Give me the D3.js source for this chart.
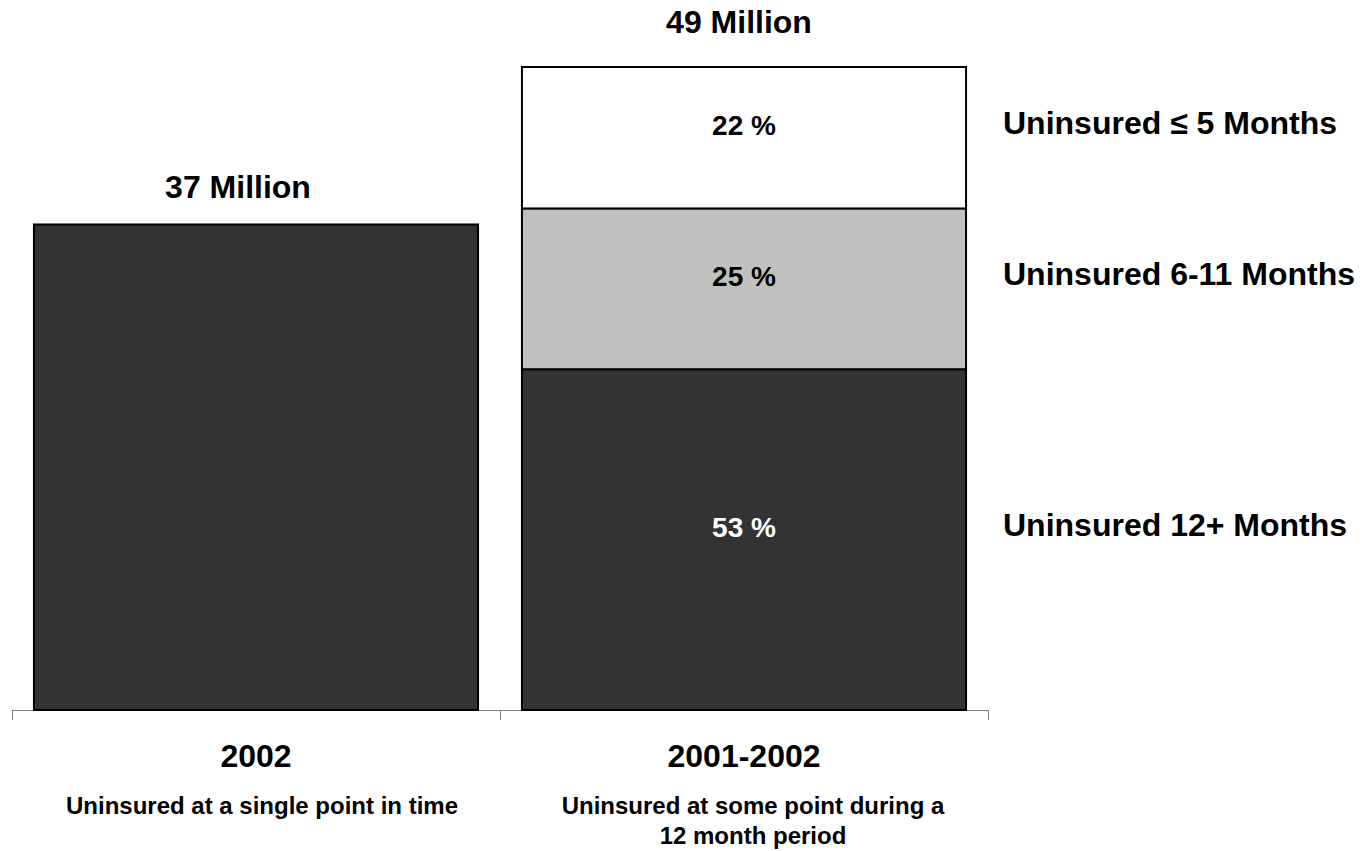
<!DOCTYPE html>
<html>
<head>
<meta charset="utf-8">
<script src="https://cdn.jsdelivr.net/npm/d3@7"></script>
<style>
  html, body { margin: 0; padding: 0; background: #fff; }
  svg { display: block; font-family: "Liberation Sans", Arial, sans-serif; font-weight: bold; }
</style>
</head>
<body>
<svg id="chart" width="1365" height="851"></svg>
<script>
// Uninsured population: point-in-time vs. over a 12 month period
const categories = ["2002", "2001-2002"];
const subtitles = [
  ["Uninsured at a single point in time"],
  ["Uninsured at some point during a", "12 month period"]
];
const totals = [37, 49];                 // millions
const totalLabels = ["37 Million", "49 Million"];
const durationGroups = ["Uninsured 12+ Months", "Uninsured 6-11 Months", "Uninsured \u2264 5 Months"];
const durationShares = [53, 25, 22];     // percent of the 2001-2002 total
const groupColors = ["#333333", "#c0c0c0", "#ffffff"];

const svg = d3.select("#chart");

const x = d3.scaleBand()
  .domain(categories)
  .range([12, 988])
  .paddingInner(0.09)
  .paddingOuter(0.045);

const y = d3.scaleLinear()
  .domain([0, 49])
  .range([710, 67]);

// Axis with ticks at the category boundaries
const xEdge = d3.scaleLinear().domain([0, categories.length]).range([12, 988]);
const axis = svg.append("g")
  .attr("transform", `translate(0,${y(0)})`)
  .call(d3.axisBottom(xEdge).tickValues(d3.range(categories.length + 1)).tickSize(10).tickSizeOuter(0).tickFormat(""));
axis.selectAll("path, line").attr("stroke", "#808080").attr("stroke-width", 1);

// First bar: a single total
svg.append("rect")
  .attr("x", x(categories[0]))
  .attr("y", y(totals[0]))
  .attr("width", x.bandwidth())
  .attr("height", y(0) - y(totals[0]))
  .attr("fill", groupColors[0])
  .attr("stroke", "#000")
  .attr("stroke-width", 2);

// Second bar: stacked by uninsured duration
const segs = [];
let acc = 0;
durationShares.forEach((p, i) => {
  const v0 = totals[1] * acc / 100;
  acc += p;
  const v1 = totals[1] * acc / 100;
  segs.push({ v0, v1, p, name: durationGroups[i], color: groupColors[i], i });
});

const stackG = svg.append("g");
stackG.selectAll("rect")
  .data(segs)
  .join("rect")
  .attr("x", x(categories[1]))
  .attr("y", d => y(d.v1))
  .attr("width", x.bandwidth())
  .attr("height", d => y(d.v0) - y(d.v1))
  .attr("fill", d => d.color)
  .attr("stroke", "#000")
  .attr("stroke-width", 2);

// Percent labels inside segments
stackG.selectAll("text")
  .data(segs)
  .join("text")
  .attr("x", x(categories[1]) + x.bandwidth() / 2)
  .attr("y", d => y((d.v0 + d.v1) / 2) - 3)
  .attr("text-anchor", "middle")
  .attr("font-size", 28)
  .attr("fill", d => d.i === 0 ? "#ffffff" : "#000000")
  .text(d => `${d.p} %`);

// Duration labels to the right of the stack
svg.append("g").selectAll("text")
  .data(segs)
  .join("text")
  .attr("x", 1003)
  .attr("y", d => y((d.v0 + d.v1) / 2) - 3.5)
  .attr("font-size", 32)
  .attr("fill", "#000")
  .text(d => d.name);

// Totals above the bars
const totalShift = [[-18, -26], [-5, -34]];
svg.append("g").selectAll("text")
  .data(categories)
  .join("text")
  .attr("x", (c, i) => x(c) + x.bandwidth() / 2 + totalShift[i][0])
  .attr("y", (c, i) => y(totals[i]) + totalShift[i][1])
  .attr("text-anchor", "middle")
  .attr("font-size", 32)
  .attr("fill", "#000")
  .text((c, i) => totalLabels[i]);

// Category labels and descriptions below the axis
const subtitleOffsets = [6, 9];
const catG = svg.append("g").selectAll("g")
  .data(categories)
  .join("g")
  .attr("transform", c => `translate(${x(c) + x.bandwidth() / 2},0)`);

catG.append("text")
  .attr("y", 767)
  .attr("text-anchor", "middle")
  .attr("font-size", 32)
  .attr("fill", "#000")
  .text(c => c);

catG.append("text")
  .attr("text-anchor", "middle")
  .attr("font-size", 24)
  .attr("fill", "#000")
  .selectAll("tspan")
  .data((c, i) => subtitles[i].map(s => ({ s, dx: subtitleOffsets[i] })))
  .join("tspan")
  .attr("x", d => d.dx)
  .attr("y", (d, j) => 814 + j * 30)
  .text(d => d.s);
</script>
</body>
</html>
